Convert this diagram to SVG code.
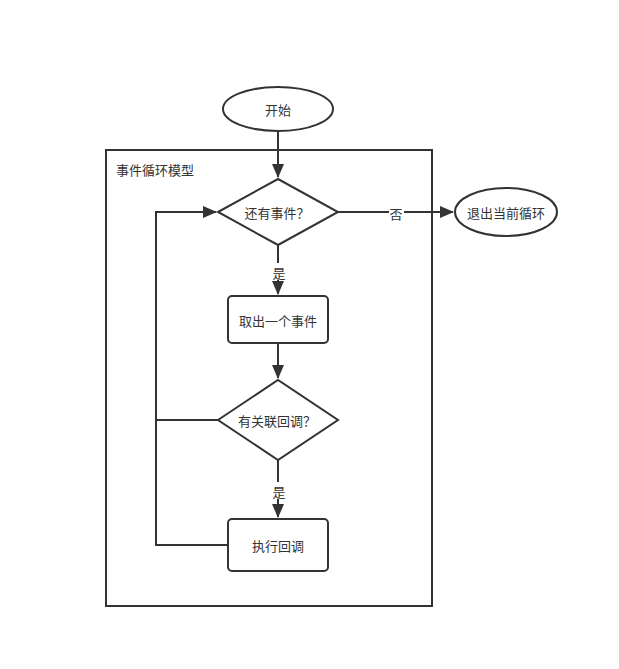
<svg xmlns="http://www.w3.org/2000/svg" width="619" height="669" viewBox="0 0 619 669">
<style>
.s{fill:#fff;stroke:#333;stroke-width:2}
.c{fill:none;stroke:#333;stroke-width:2}
text{font-family:"Noto Sans CJK SC","Noto Sans",sans-serif;font-size:13px;fill:#333;text-anchor:middle;dominant-baseline:central}
.lb{fill:#fff}
</style>
<defs><marker id="a" markerWidth="10" markerHeight="10" refX="9" refY="5" orient="auto" markerUnits="userSpaceOnUse"><path d="M0,0L10,5L0,10z" fill="#333"/></marker>
<marker id="b" markerWidth="14" markerHeight="12" refX="13" refY="6" orient="auto" markerUnits="userSpaceOnUse"><path d="M0,0L14,6L0,12z" fill="#333"/></marker></defs>
<rect width="619" height="669" fill="#fff"/>
<g id="container"><rect x="106" y="150" width="326" height="456" fill="none" stroke="#333" stroke-width="2"/><text x="155" y="169">事件循环模型</text></g>
<g id="connectors">
<path class="c" d="M278,131V177" marker-end="url(#b)"/>
<path class="c" d="M338,212H453" marker-end="url(#b)"/>
<path class="c" d="M278,245V294" marker-end="url(#b)"/>
<path class="c" d="M278,343V378" marker-end="url(#b)"/>
<path class="c" d="M278,460V517" marker-end="url(#b)"/>
<path class="c" d="M228,545H156V212H216" marker-end="url(#b)"/>
<path class="c" d="M218,420H156"/>
<rect class="lb" x="389" y="204" width="15" height="17"/><text x="396" y="213">否</text>
<rect class="lb" x="271" y="263" width="15" height="17"/><text x="279" y="272">是</text>
<rect class="lb" x="271" y="482" width="15" height="17"/><text x="279" y="491">是</text>
</g>
<g id="start"><ellipse class="s" cx="278" cy="109" rx="55" ry="22"/><text x="278" y="109">开始</text></g>
<g id="d1"><path class="s" d="M218,212L278,179L338,212L278,245z"/><text x="277" y="212">还有事件？</text></g>
<g id="exit"><ellipse class="s" cx="506" cy="212" rx="51" ry="24"/><text x="506" y="212">退出当前循环</text></g>
<g id="r1"><rect class="s" x="228" y="296" width="100" height="47" rx="4"/><text x="278" y="320">取出一个事件</text></g>
<g id="d2"><path class="s" d="M218,420L278,380L338,420L278,460z"/><text x="277" y="420">有关联回调？</text></g>
<g id="r2"><rect class="s" x="228" y="519" width="100" height="52" rx="4"/><text x="278" y="545">执行回调</text></g>
</svg>
